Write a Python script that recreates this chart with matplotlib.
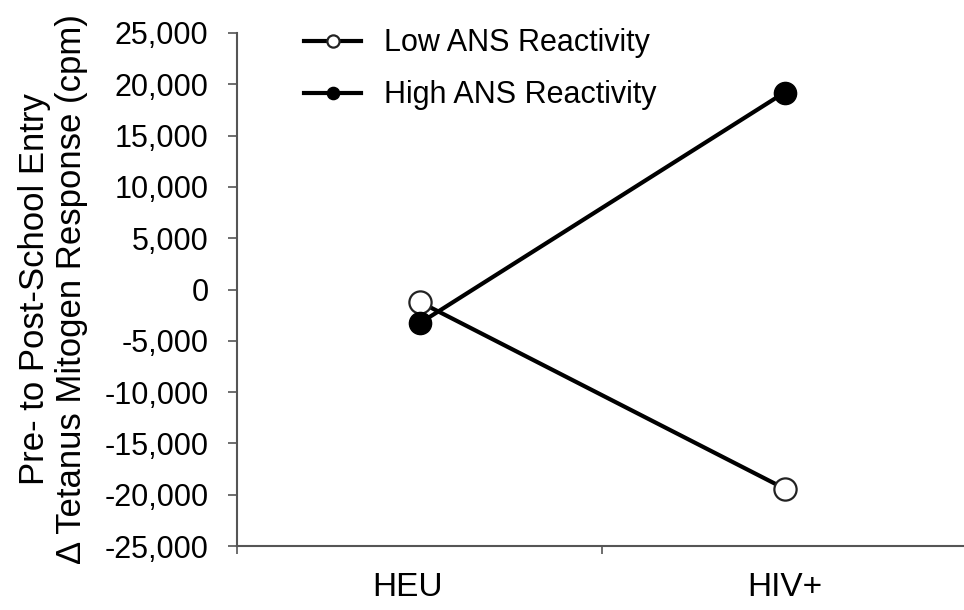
import matplotlib.pyplot as plt
import matplotlib.transforms as mtransforms
from matplotlib.ticker import FuncFormatter

plt.rcParams['font.family'] = ['Liberation Sans', 'DejaVu Sans']

# Data
groups = ['HEU', 'HIV+']
low_ans = [-1200, -19400]
high_ans = [-3300, 19200]
y_ticks = list(range(-25000, 25001, 5000))

fig = plt.figure(figsize=(9.64, 6.10), dpi=100)
# axis runs slightly past the right edge, like the original
ax = fig.add_axes([237 / 964, (610 - 546) / 610, 730 / 964, 513 / 610])

xpos = [0.5, 1.5]
ax.plot(xpos, low_ans, color='black', lw=3, marker='o', ms=16,
        mfc='white', mec='#222222', mew=1.6, label='Low ANS Reactivity', zorder=3)
ax.plot(xpos, high_ans, color='black', lw=3, marker='o', ms=16,
        mfc='black', mec='black', label='High ANS Reactivity', zorder=4)

ax.set_xlim(0, 2)
ax.set_ylim(-25000, 25000)
ax.set_yticks(y_ticks)
ax.yaxis.set_major_formatter(FuncFormatter(lambda v, p: f'{int(v):,}'))
ax.set_xticks([0, 1, 2])
ax.set_xticklabels([])
ax.set_xticks(xpos, minor=True)
ax.set_xticklabels(groups, minor=True)
ax.tick_params(axis='x', which='minor', length=0, pad=19, labelsize=24)
ax.tick_params(axis='x', which='major', length=6, width=1.2, color='#555555')
ax.tick_params(axis='y', length=6.5, width=1.2, color='#555555', labelsize=22, pad=14)

# the HEU label sits a little left of its points in the original
heu_lbl = ax.get_xticklabels(minor=True)[0]
heu_lbl.set_transform(heu_lbl.get_transform() +
                      mtransforms.ScaledTranslation(-12 / 100, 0, fig.dpi_scale_trans))

for s in ['top', 'right']:
    ax.spines[s].set_visible(False)
for s in ['left', 'bottom']:
    ax.spines[s].set_color('#555555')
    ax.spines[s].set_linewidth(1.5)

ax.set_ylabel('Pre- to Post-School Entry\n\u0394 Tetanus Mitogen Response (cpm)',
              fontsize=25, linespacing=1.15, labelpad=12)

ax.legend(loc='upper left', bbox_to_anchor=(289 / 964, 1 - 13 / 610),
          bbox_transform=fig.transFigure, frameon=False, fontsize=22,
          markerscale=0.55, handlelength=1.85, labelspacing=0.72,
          borderpad=0, handletextpad=0.75)

plt.savefig('out.png', dpi=100)
